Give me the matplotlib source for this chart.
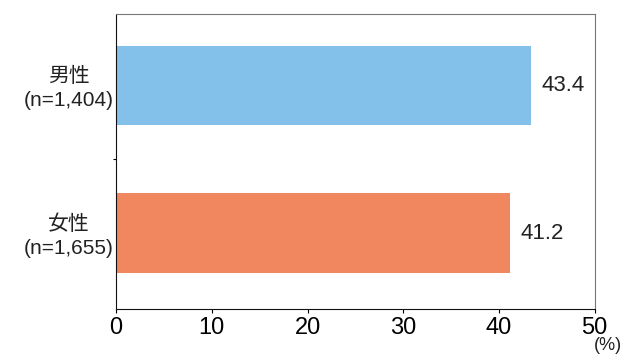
import matplotlib
matplotlib.use('Agg')
import matplotlib.pyplot as plt

plt.rcParams['font.family'] = ['Liberation Sans', 'Noto Sans CJK JP', 'DejaVu Sans']

# データ
categories = ['男性\n(n=1,404)', '女性\n(n=1,655)']
values = [43.4, 41.2]
bar_colors = ['#83C1EA', '#F0875E']
xticks = [0, 10, 20, 30, 40, 50]

fig = plt.figure(figsize=(6.24, 3.54), dpi=100)
ax = fig.add_axes([0.186, 0.127, 0.767, 0.833])

y = range(len(categories))
ax.barh(y, values, height=0.54, color=bar_colors)

for yi, v in zip(y, values):
    ax.annotate(f'{v:.1f}', (v, yi), xytext=(7, 0), textcoords='offset points',
                va='center', ha='left', fontsize=16, color='#222222')

ax.set_xlim(0, 50)
ax.set_ylim(1.515, -0.485)
ax.set_xticks(xticks)
ax.set_xticklabels([str(t) for t in xticks], fontsize=17)
ax.tick_params(axis='x', length=3, width=0.8, pad=3)

# y軸ラベルは目盛りなしで表示、中央に小さな目盛り
ax.set_yticks([0.5])
ax.set_yticklabels([''])
ax.tick_params(axis='y', length=2, width=0.8)
for yi, lab in zip(y, categories):
    ax.text(-0.005, yi + 0.02, lab, transform=ax.get_yaxis_transform(), ha='right',
            va='center', multialignment='center', fontsize=15, linespacing=1.3,
            color='#222222')

ax.spines['left'].set_color('#111111')
ax.spines['bottom'].set_color('#111111')
ax.spines['top'].set_color('#777777')
ax.spines['right'].set_color('#777777')

fig.text(0.975, 0.0, '(%)', ha='center', va='bottom', fontsize=13, color='#222222')

plt.savefig('out.png', dpi=100)
